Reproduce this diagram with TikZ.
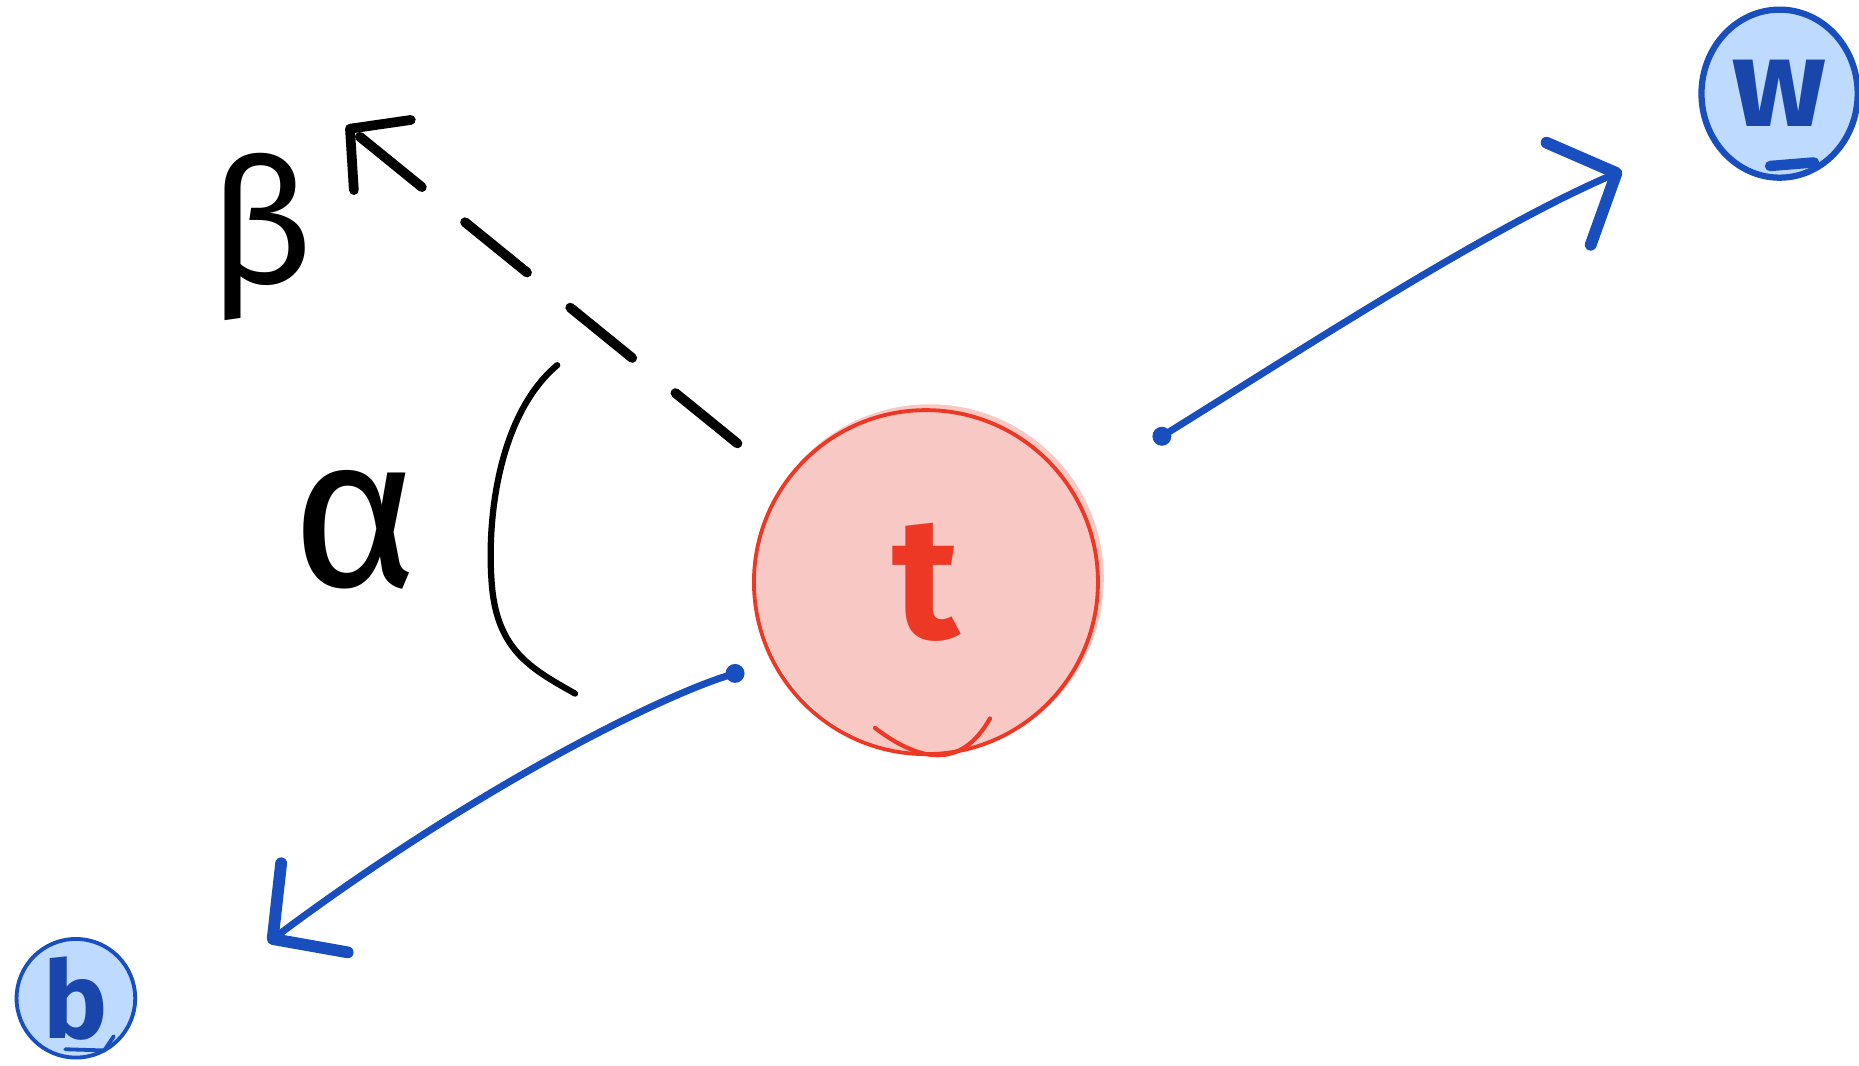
\documentclass[tikz,border=0pt]{standalone}
\usepackage{fontspec}
\setmainfont{Fira Sans}
\usetikzlibrary{arrows.meta,shapes.geometric}
\definecolor{skred}{RGB}{236,56,36}
\definecolor{skpink}{RGB}{248,201,196}
\definecolor{skblue}{RGB}{24,78,190}
\definecolor{skink}{RGB}{24,70,170}
\definecolor{skpale}{RGB}{190,218,255}

\begin{document}
\begin{tikzpicture}[
  x=0.012cm,y=-0.012cm,
  line cap=round,line join=round,
  glyph/.style={inner sep=0pt,font=\fontsize{#1}{#1}\selectfont},
  heavy/.style={inner sep=0pt,font=\bfseries\fontsize{#1}{#1}\selectfont},
  ball/.style={circle,inner sep=0pt},
  push/.style={skblue,line width=2pt,-{Straight Barb[round,length=15pt,width=32pt,line width=3.4pt]}},
  ray/.style={black,line width=2.8pt,dash pattern=on 23pt off 16pt,
    -{Straight Barb[round,length=12pt,width=26pt,line width=2.8pt]}}
]
  \useasboundingbox (0,0) rectangle (1568,899);

  % top quark
  \fill[skpink] (784,488) circle[radius=147];
  \node[ball,draw=skred,line width=1.1pt,minimum size=3.48cm,
        text=skred,heavy=50pt] (t) at (781,491) {t};
  \draw[skred,line width=1.2pt] (738,614) .. controls (775,642) and (810,650) .. (835,606);

  % decay products
  \node[ellipse,draw=skblue,line width=1.8pt,fill=skpale,minimum width=1.58cm,
        minimum height=1.70cm,text=skink,heavy=36pt] (w) at (1501,79) {w};
  \draw[skblue,line width=3pt] (1493,140) -- (1530,137);
  \node[ball,draw=skblue,line width=1.1pt,fill=skpale,minimum size=1.2cm,
        text=skink,heavy=31pt] (b) at (64,842) {b};
  \draw[skblue,line width=1.1pt] (55,885) -- (88,886) -- (96,874);

  \coordinate (wfrom) at (980,368);
  \coordinate (wto) at (1368,144);
  \coordinate (bfrom) at (620,568);
  \coordinate (bto) at (226,795);
  \fill[skblue] (wfrom) circle[radius=8];
  \fill[skblue] (bfrom) circle[radius=8];
  \draw[push] (wfrom) .. controls (1090,300) and (1250,195) .. (wto);
  \draw[push] (bfrom) .. controls (560,585) and (400,665) .. (bto);

  % boost direction and angles
  \coordinate (rayfrom) at (622,374);
  \coordinate (rayto) at (292,106);
  \draw[ray] (rayfrom) -- (rayto);
  \draw[black,line width=1.8pt] (470,308) .. controls (420,350) and (410,440) .. (415,495)
    .. controls (420,550) and (450,565) .. (485,585);
  \node[glyph=62pt] (alpha) at (300,447) {α};
  \node[glyph=50pt] (beta) at (220,200) {β};
\end{tikzpicture}
\end{document}
